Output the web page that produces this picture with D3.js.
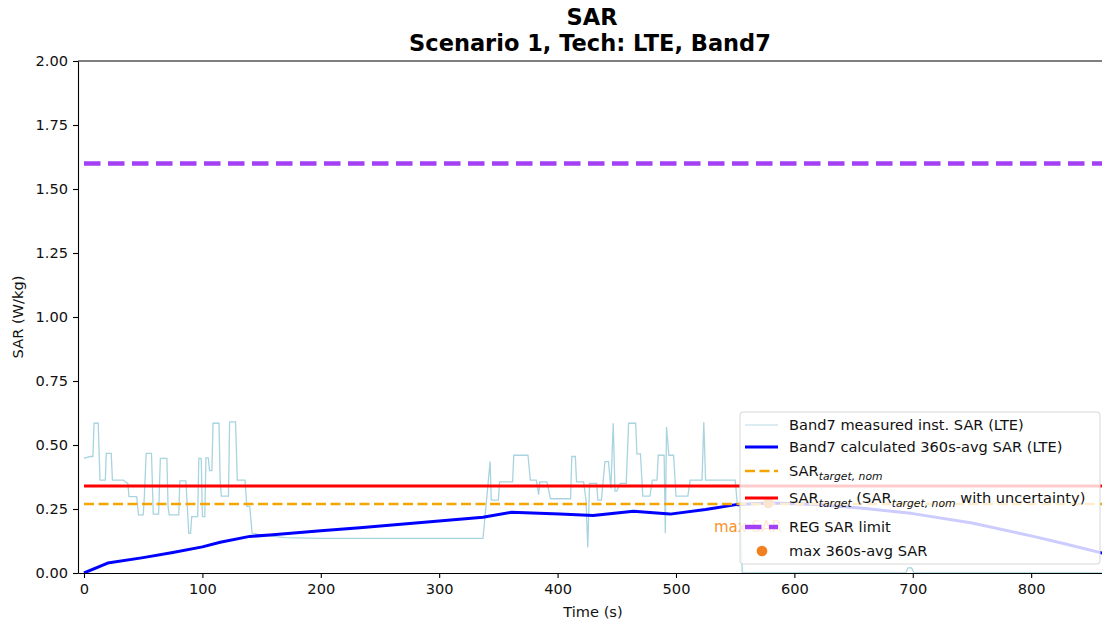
<!DOCTYPE html>
<html>
<head>
<meta charset="utf-8">
<script src="https://cdn.jsdelivr.net/npm/d3@7"></script>
<style>
  body { margin: 0; background: #fff; }
  text { font-family: "DejaVu Sans", sans-serif; }
</style>
</head>
<body>
<div id="chart"></div>
<script>
// measured instantaneous SAR (step trace), time in s, SAR in W/kg
var measTime = [0, 5, 7.5, 8.5, 12, 13.5, 18, 18.8, 23, 24, 33, 37, 38, 44.5, 46, 50, 51, 52.5, 57, 58.5, 63, 64.5, 70, 71, 72, 80,
  81, 86, 87, 88.5, 90, 91, 96, 97, 99, 100, 102, 103, 105, 106, 108, 109, 114, 115, 116, 122, 123, 128, 129.5, 136, 137.5, 140,
  142, 150, 170, 200, 336, 337, 343, 344, 350, 351, 362, 363, 375, 377, 382, 384, 385, 391, 394, 411, 412, 415, 416, 422, 424,
  425.5, 427, 433, 434, 437, 440, 443, 445, 447, 448.5, 450, 453, 456, 458, 460, 463, 466, 467, 470, 472, 478, 480, 484, 485,
  490, 491, 492, 494, 498, 500, 510, 512, 520, 522, 523.5, 525, 550, 552, 554, 556, 694, 696, 699, 701, 865];
var measSar = [0.448, 0.455, 0.455, 0.585, 0.585, 0.363, 0.363, 0.467, 0.467, 0.363, 0.363, 0.35, 0.298, 0.298, 0.227, 0.227, 0.30, 0.467, 0.467, 0.23, 0.23, 0.448, 0.448, 0.259, 0.227, 0.227,
  0.36, 0.36, 0.28, 0.155, 0.155, 0.22, 0.22, 0.448, 0.448, 0.22, 0.22, 0.45, 0.45, 0.40, 0.40, 0.585, 0.585, 0.363, 0.30, 0.30, 0.59, 0.59, 0.363, 0.363, 0.26, 0.26,
  0.155, 0.148, 0.138, 0.135, 0.135, 0.135, 0.435, 0.285, 0.285, 0.356, 0.356, 0.46, 0.46, 0.363, 0.363, 0.306, 0.356, 0.356, 0.29, 0.29, 0.455, 0.455, 0.356, 0.356, 0.285,
  0.10, 0.35, 0.35, 0.285, 0.285, 0.435, 0.435, 0.33, 0.585, 0.32, 0.32, 0.35, 0.35, 0.35, 0.585, 0.585, 0.585, 0.465, 0.465, 0.30, 0.30, 0.363, 0.363, 0.46,
  0.46, 0.155, 0.57, 0.46, 0.46, 0.30, 0.30, 0.363, 0.363, 0.363, 0.59, 0.363, 0.363, 0.26, 0.26, 0.0, 0.0, 0.02, 0.02, 0.0, 0.0];

// calculated 360s-average SAR
var avgTime = [0, 20, 50, 75, 100, 115, 140, 157, 200, 233, 337, 361, 402, 430, 464, 495, 525, 552, 580, 620, 660, 700, 750, 800, 830, 865];
var avgSar = [0, 0.039, 0.06, 0.08, 0.102, 0.12, 0.143, 0.148, 0.165, 0.177, 0.218, 0.237, 0.230, 0.225, 0.241, 0.230, 0.248, 0.268,
  0.273, 0.268, 0.252, 0.232, 0.195, 0.145, 0.112, 0.072];

var targetNom = 0.27;
var target = 0.34;
var regLimit = 1.6;
var lineSpan = [0, 865];
var maxPoint = [578, 0.274];
var maxLabel = "max SAR";

var xTicks = [0, 100, 200, 300, 400, 500, 600, 700, 800];
var yTicks = [0, 0.25, 0.5, 0.75, 1.0, 1.25, 1.5, 1.75, 2.0];

var W = 1102, H = 622;
var padL = 78, padR = 1108, padT = 61, padB = 573;

var svg = d3.select("#chart").append("svg")
  .attr("width", W)
  .attr("height", H);

var x = d3.scaleLinear().domain([-5.07, 864.9]).range([padL, padR]);
var y = d3.scaleLinear().domain([0, 2]).range([padB, padT]);

svg.append("clipPath").attr("id", "plotclip")
  .append("rect")
  .attr("x", padL).attr("y", padT)
  .attr("width", padR - padL).attr("height", padB - padT);

var plot = svg.append("g").attr("clip-path", "url(#plotclip)");

var line = d3.line()
  .x(function (d) { return x(d[0]); })
  .y(function (d) { return y(d[1]); });

// measured inst. SAR
plot.append("path")
  .datum(d3.zip(measTime, measSar))
  .attr("d", line)
  .attr("fill", "none")
  .attr("stroke", "#a8d4e0")
  .attr("stroke-width", 1.3);

// 360s avg
plot.append("path")
  .datum(d3.zip(avgTime, avgSar))
  .attr("d", line)
  .attr("fill", "none")
  .attr("stroke", "#0000ff")
  .attr("stroke-width", 3)
  .attr("stroke-linejoin", "round");

// horizontal limits
function hline(v, color, width, dash) {
  plot.append("path")
    .datum([[lineSpan[0], v], [lineSpan[1], v]])
    .attr("d", line)
    .attr("fill", "none")
    .attr("stroke", color)
    .attr("stroke-width", width)
    .attr("stroke-dasharray", dash);
}
hline(targetNom, "#f5a400", 2.5, "10,4.5");
hline(target, "#ff0000", 3, null);
hline(regLimit, "#a340f5", 4.5, "16.5,7.5");

// max point + annotation
plot.append("path")
  .attr("d", d3.symbol().type(d3.symbolCircle).size(90)())
  .attr("transform", "translate(" + x(maxPoint[0]) + "," + y(maxPoint[1]) + ")")
  .attr("fill", "#f08020");

plot.append("text")
  .attr("x", 714)
  .attr("y", 532)
  .attr("font-size", "15px")
  .attr("fill", "#f7922a")
  .text(maxLabel);

// axes
var xAxis = d3.axisBottom(x).tickValues(xTicks).tickFormat(d3.format("d"))
  .tickSize(5).tickSizeOuter(0).tickPadding(6);
var yAxis = d3.axisLeft(y).tickValues(yTicks).tickFormat(d3.format(".2f"))
  .tickSize(5).tickSizeOuter(0).tickPadding(5);

var gx = svg.append("g")
  .attr("transform", "translate(0," + padB + ")")
  .call(xAxis);
var gy = svg.append("g")
  .attr("transform", "translate(" + padL + ",0)")
  .call(yAxis);

[gx, gy].forEach(function (g) {
  g.selectAll("text").attr("font-size", "14.6px").attr("fill", "#111").style("font-family", "DejaVu Sans");
  g.selectAll("line").attr("stroke", "#000").attr("stroke-width", 1.1);
  g.select(".domain").attr("stroke", "#000").attr("stroke-width", 1.1);
});

// top spine
svg.append("line")
  .attr("x1", padL).attr("x2", padR)
  .attr("y1", padT).attr("y2", padT)
  .attr("stroke", "#000").attr("stroke-width", 1.1);

// axis labels
svg.append("text")
  .attr("x", (padL + padR) / 2)
  .attr("y", 617)
  .attr("text-anchor", "middle")
  .attr("font-size", "14.6px")
  .attr("fill", "#111")
  .text("Time (s)");

svg.append("text")
  .attr("transform", "translate(23," + ((padT + padB) / 2) + ") rotate(-90)")
  .attr("text-anchor", "middle")
  .attr("font-size", "14.6px")
  .attr("fill", "#111")
  .text("SAR (W/kg)");

// title
svg.append("text")
  .attr("x", 592).attr("y", 25)
  .attr("text-anchor", "middle")
  .attr("font-size", "22.5px")
  .attr("font-weight", "bold")
  .text("SAR");
svg.append("text")
  .attr("x", 590).attr("y", 51)
  .attr("text-anchor", "middle")
  .attr("font-size", "22.5px")
  .attr("font-weight", "bold")
  .text("Scenario 1, Tech: LTE, Band7");

// legend
var legend = svg.append("g");
legend.append("rect")
  .attr("x", 740).attr("y", 412)
  .attr("width", 360).attr("height", 152)
  .attr("rx", 3)
  .attr("fill", "#fff").attr("fill-opacity", 0.8)
  .attr("stroke", "#d6d6d6").attr("stroke-width", 1);

var legendItems = [
  { y: 425, kind: "line", color: "#a8d4e0", width: 1.3, dash: null, opacity: 0.55,
    parts: [["Band7 measured inst. SAR (LTE)", false]] },
  { y: 447, kind: "line", color: "#0000ff", width: 3, dash: null, opacity: 1,
    parts: [["Band7 calculated 360s-avg SAR (LTE)", false]] },
  { y: 471, kind: "line", color: "#f5a400", width: 2.5, dash: "10,4.5", opacity: 1,
    parts: [["SAR", false], ["target, nom", true]] },
  { y: 498, kind: "line", color: "#ff0000", width: 3, dash: null, opacity: 1,
    parts: [["SAR", false], ["target", true], [" (SAR", false], ["target, nom", true], [" with uncertainty)", false]] },
  { y: 527, kind: "line", color: "#a340f5", width: 4.5, dash: "16.5,7.5", opacity: 1,
    parts: [["REG SAR limit", false]] },
  { y: 551, kind: "dot", color: "#f08020", parts: [["max 360s-avg SAR", false]] }
];

legendItems.forEach(function (it) {
  if (it.kind === "line") {
    legend.append("line")
      .attr("x1", 745).attr("x2", 778)
      .attr("y1", it.y).attr("y2", it.y)
      .attr("stroke", it.color)
      .attr("stroke-width", it.width)
      .attr("stroke-dasharray", it.dash)
      .attr("opacity", it.opacity);
  } else {
    legend.append("path")
      .attr("d", d3.symbol().type(d3.symbolCircle).size(90)())
      .attr("transform", "translate(762," + it.y + ")")
      .attr("fill", it.color);
  }
  var t = legend.append("text")
    .attr("x", 789).attr("y", it.y + 5)
    .attr("font-size", "14.6px")
    .attr("fill", "#111");
  var shifted = false;
  it.parts.forEach(function (p) {
    var ts = t.append("tspan").text(p[0]);
    if (p[1]) {
      ts.attr("font-size", "10.8px").attr("font-style", "italic").attr("dy", 4);
      shifted = true;
    } else if (shifted) {
      ts.attr("dy", -4);
      shifted = false;
    }
  });
});
</script>
</body>
</html>
